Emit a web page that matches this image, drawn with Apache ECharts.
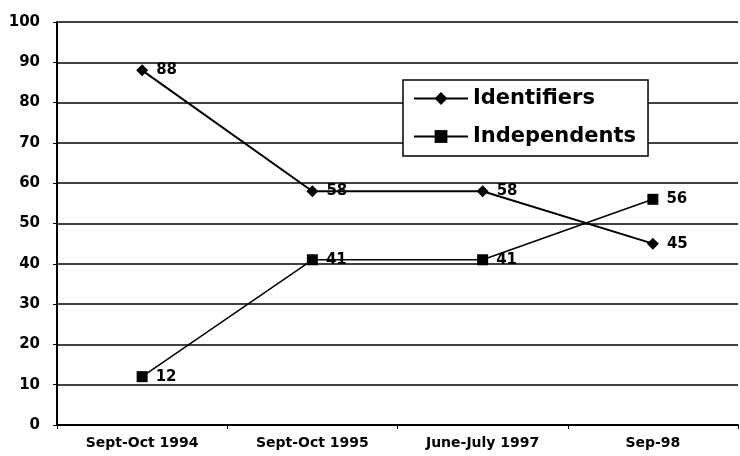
<!DOCTYPE html>
<html>
<head>
<meta charset="utf-8">
<script src="https://cdn.jsdelivr.net/npm/echarts@6/dist/echarts.min.js"></script>
<style>
  html, body { margin: 0; padding: 0; background: #fff; }
  #chart { width: 740px; height: 456px; }
</style>
</head>
<body>
<div id="chart"></div>
<script>
var categories = ['Sept-Oct 1994', 'Sept-Oct 1995', 'June-July 1997', 'Sep-98'];
var identifiers = [88, 58, 58, 45];
var independents = [12, 41, 41, 56];

var myChart = echarts.init(document.getElementById('chart'));

var boldFont = 'DejaVu Sans';

var labelStyle = {
    show: true,
    position: 'right',
    distance: 8,
    color: '#000',
    fontFamily: boldFont,
    fontWeight: 'bold',
    fontSize: 15
};

var option = {
    backgroundColor: '#fff',
    animation: false,
    grid: {
        left: 57,
        right: 2,
        top: 22,
        bottom: 31
    },
    legend: {
        left: 403,
        top: 80,
        orient: 'vertical',
        itemGap: 17,
        itemWidth: 54,
        itemHeight: 16,
        padding: [8, 12, 9, 10],
        borderColor: '#000',
        borderWidth: 1.5,
        backgroundColor: '#fff',
        textStyle: {
            color: '#000',
            fontFamily: boldFont,
            fontWeight: 'bold',
            fontSize: 21
        },
        data: ['Identifiers', 'Independents']
    },
    xAxis: {
        type: 'category',
        data: categories,
        boundaryGap: true,
        axisLine: { lineStyle: { color: '#000', width: 2 } },
        axisTick: { show: true, length: 4, lineStyle: { color: '#000' } },
        axisLabel: {
            color: '#000',
            fontFamily: boldFont,
            fontWeight: 'bold',
            fontSize: 14,
            margin: 11
        }
    },
    yAxis: {
        type: 'value',
        min: 0,
        max: 100,
        interval: 10,
        axisLine: { show: true, lineStyle: { color: '#000', width: 2 } },
        axisTick: { show: true, length: 4, lineStyle: { color: '#000' } },
        axisLabel: {
            color: '#000',
            fontFamily: boldFont,
            fontWeight: 'bold',
            fontSize: 15,
            margin: 17
        },
        splitLine: { show: true, lineStyle: { color: '#000', width: 1.5 } }
    },
    series: [
        {
            name: 'Identifiers',
            type: 'line',
            data: identifiers,
            symbol: 'diamond',
            symbolSize: 12,
            itemStyle: { color: '#000' },
            lineStyle: { color: '#000', width: 2 },
            label: labelStyle
        },
        {
            name: 'Independents',
            type: 'line',
            data: independents,
            symbol: 'rect',
            symbolSize: 11,
            itemStyle: { color: '#000' },
            lineStyle: { color: '#000', width: 1.5 },
            label: labelStyle
        }
    ]
};

myChart.setOption(option);
window.addEventListener('resize', function () {
    myChart.resize();
});
</script>
</body>
</html>
